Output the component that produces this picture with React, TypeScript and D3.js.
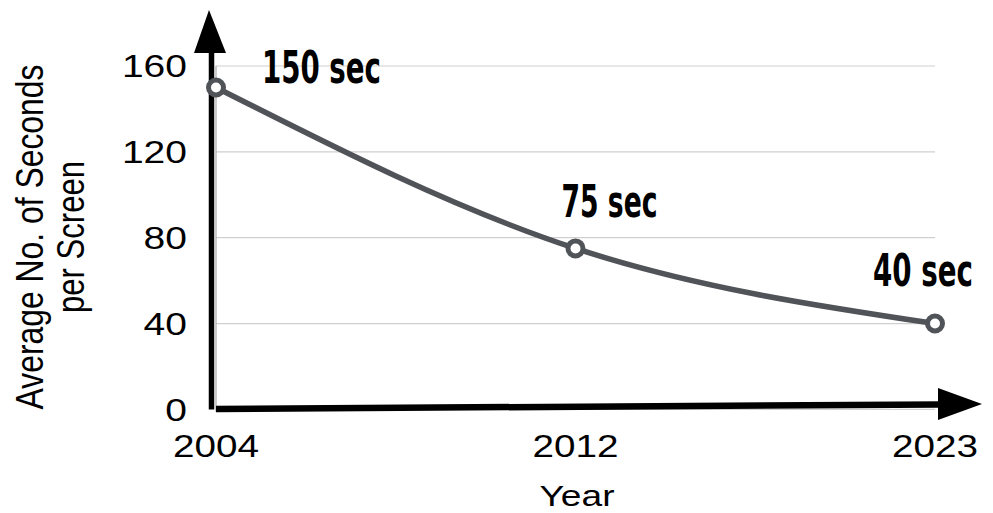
import React, { useLayoutEffect, useRef, useState } from 'react';
import * as d3 from 'd3';

const years = ['2004', '2012', '2023'];
const seconds = [150, 75, 40];
const pointLabels = ['150 sec', '75 sec', '40 sec'];
const yTicks = [0, 40, 80, 120, 160];

const width = 993;
const height = 513;
const margin = { top: 66, right: 58, bottom: 104, left: 216 };

const tickFont = '"Liberation Sans", Arial, Helvetica, sans-serif';
const labelFont = '"Liberation Sans Narrow", "DejaVu Sans Condensed", sans-serif';

// offsets of the value labels from their points (dx of the left edge, dy of the baseline, width)
const labelPlacement = [
  { dx: 46, dy: -4, w: 119 },
  { dx: -14, dy: -31, w: 96 },
  { dx: -62, dy: -38, w: 100 }
];

interface FitTextProps {
  x: number;
  y: number;
  w: number;
  size: number;
  anchor?: 'start' | 'middle' | 'end';
  family: string;
  weight?: string;
  rotate?: number;
  dy?: string;
  children: string;
}

// text squeezed/stretched along its run to a measured width (the reference type is wide)
const FitText: React.FC<FitTextProps> = ({ x, y, w, size, anchor = 'start', family, weight = 'normal', rotate = 0, dy, children }) => {
  const ref = useRef<SVGTextElement>(null);
  const [sx, setSx] = useState(1);
  useLayoutEffect(() => {
    if (!ref.current) return;
    const len = ref.current.getComputedTextLength();
    if (len > 0) setSx(w / len);
  }, [w, children, size]);
  return (
    <g transform={`translate(${x},${y}) rotate(${rotate}) scale(${sx},1)`}>
      <text ref={ref} textAnchor={anchor} fontFamily={family} fontWeight={weight} fontSize={size} dy={dy} fill="#000">
        {children}
      </text>
    </g>
  );
};

const App: React.FC = () => {
  const x = d3.scalePoint<string>()
    .domain(years)
    .range([margin.left, width - margin.right]);

  const y = d3.scaleLinear()
    .domain([0, 160])
    .range([height - margin.bottom + 0.4, margin.top]);

  const data = years.map((yr, i) => ({ yr, v: seconds[i] }));

  const line = d3.line<{ yr: string; v: number }>()
    .x(d => x(d.yr) || 0)
    .y(d => y(d.v))
    .curve(d3.curveMonotoneX);

  const x0 = margin.left;
  const x1 = width - margin.right;
  const y0 = y(0);

  return (
    <svg width={width} height={height} style={{ position: 'absolute', left: 0, top: 0, background: '#fff' }}>
      {/* gridlines */}
      {yTicks.map(t => (
        <line key={t} x1={x0} x2={x1} y1={y(t)} y2={y(t)} stroke="#cfcfcf" strokeWidth={1.2} />
      ))}
      <line x1={x0} x2={x0} y1={y(160)} y2={y0 + 2} stroke="#a8a8a8" strokeWidth={1.2} />

      {/* thick arrow axes */}
      <line x1={211.5} x2={211.5} y1={y0} y2={48} stroke="#000" strokeWidth={5.5} />
      <path d="M209,10 L226,53 L194,53 Z" fill="#000" />
      <line x1={216} x2={940} y1={y0 - 0.5} y2={404.5} stroke="#000" strokeWidth={6.5} />
      <path d="M982,404 L938,388 L938,420 Z" fill="#000" />

      {/* y tick labels */}
      {yTicks.map(t => (
        <FitText key={t} x={187} y={y(t)} dy="0.36em" anchor="end" family={tickFont}
          size={31} w={String(t).length * 21.7}>
          {String(t)}
        </FitText>
      ))}

      {/* x tick labels */}
      {years.map(yr => (
        <FitText key={yr} x={x(yr) || 0} y={457} anchor="middle" family={tickFont} size={31} w={86}>
          {yr}
        </FitText>
      ))}

      {/* axis titles */}
      <FitText x={577} y={506} anchor="middle" family={tickFont} size={29} w={75}>Year</FitText>
      <FitText x={43} y={237} rotate={-90} anchor="middle" family={tickFont} size={38} w={345}>
        Average No. of Seconds
      </FitText>
      <FitText x={84} y={237} rotate={-90} anchor="middle" family={tickFont} size={38} w={152}>
        per Screen
      </FitText>

      {/* series line */}
      <path d={line(data) || ''} fill="none" stroke="#505358" strokeWidth={5.5} strokeLinecap="round" />
      {data.map(d => (
        <circle key={d.yr} cx={x(d.yr)} cy={y(d.v)} r={7.5} fill="#fff" stroke="#505358" strokeWidth={5} />
      ))}

      {/* value labels */}
      {data.map((d, i) => (
        <FitText key={d.yr} x={(x(d.yr) || 0) + labelPlacement[i].dx} y={y(d.v) + labelPlacement[i].dy}
          family={labelFont} weight="bold" size={45} w={labelPlacement[i].w}>
          {pointLabels[i]}
        </FitText>
      ))}
    </svg>
  );
};

export default App;
